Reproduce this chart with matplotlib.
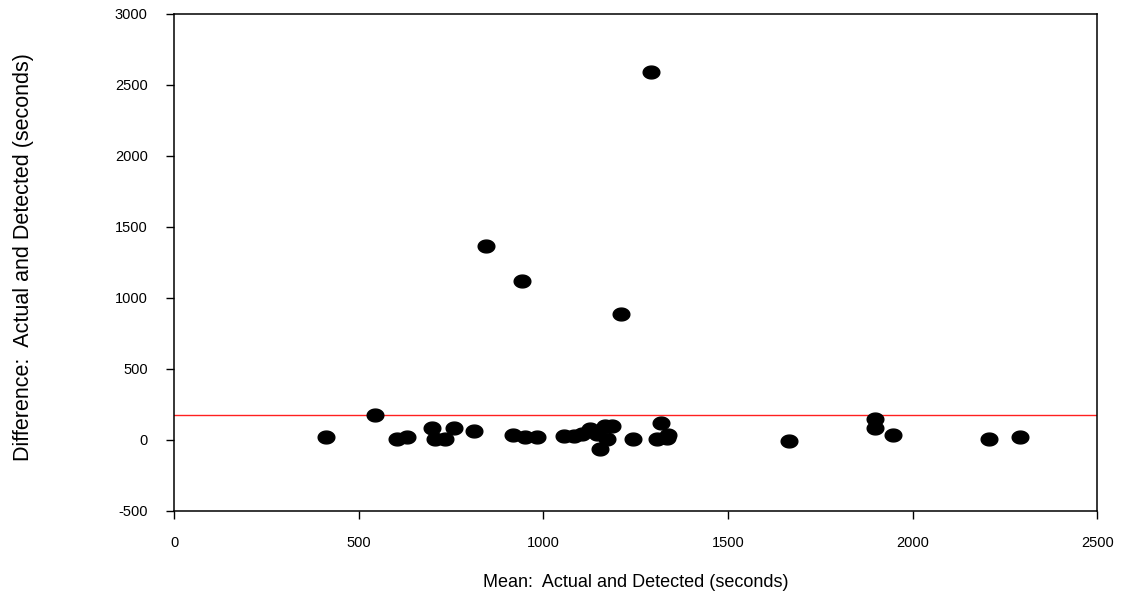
import numpy as np
import matplotlib
matplotlib.use("Agg")
import matplotlib.pyplot as plt
from matplotlib.path import Path

# Data (seconds)
mean_vals = [412, 544, 603, 630, 698, 707, 734, 758, 811, 917, 950, 982,
             1055, 1082, 1104, 1127, 1145, 1154, 1167, 1172, 1186, 1211, 845, 943,
             1244, 1292, 1307, 1320, 1336, 1338, 1666, 1899, 1899, 1948, 2208, 2290]
diff_vals = [21, 178, 5, 21, 87, 5, 5, 87, 63, 33, 20, 20,
             28, 28, 40, 75, 40, -65, 99, 5, 99, 887, 1366, 1120,
             5, 2592, 5, 122, 16, 33, -7, 146, 82, 35, 9, 23]
ref_line = 178

x_ticks = [0, 500, 1000, 1500, 2000, 2500]
y_ticks = [-500, 0, 500, 1000, 1500, 2000, 2500, 3000]

plt.rcParams['font.family'] = ['Liberation Sans', 'DejaVu Sans']
plt.rcParams['axes.unicode_minus'] = False

fig = plt.figure(figsize=(11.30, 5.99), dpi=100)
ax = fig.add_axes([0.154, 0.147, 0.817, 0.8297])

# ellipse-shaped marker (wider than tall)
t = np.linspace(0, 2 * np.pi, 64)
verts = np.column_stack([1.3 * np.cos(t), np.sin(t)])
ell = Path(verts, closed=True)

ax.axhline(ref_line, color='#ff2020', lw=1.0, zorder=1)
ax.plot(mean_vals, diff_vals, linestyle='none', marker=ell, markersize=12,
        color='black', zorder=3)

ax.set_xlim(0, 2500)
ax.set_ylim(-500, 3000)
ax.set_xticks(x_ticks)
ax.set_yticks(y_ticks)
ax.tick_params(direction='out', length=6, width=1, labelsize=10.5, color='black')
ax.tick_params(axis='y', pad=13)
ax.tick_params(axis='x', pad=12)
for s in ax.spines.values():
    s.set_linewidth(1.1)

ax.set_xlabel('Mean:  Actual and Detected (seconds)', fontsize=13, labelpad=17)
ax.set_ylabel('Difference:  Actual and Detected (seconds)', fontsize=15.5)
ax.yaxis.set_label_coords(-0.152, 0.51)

fig.savefig('out.png', dpi=100)
